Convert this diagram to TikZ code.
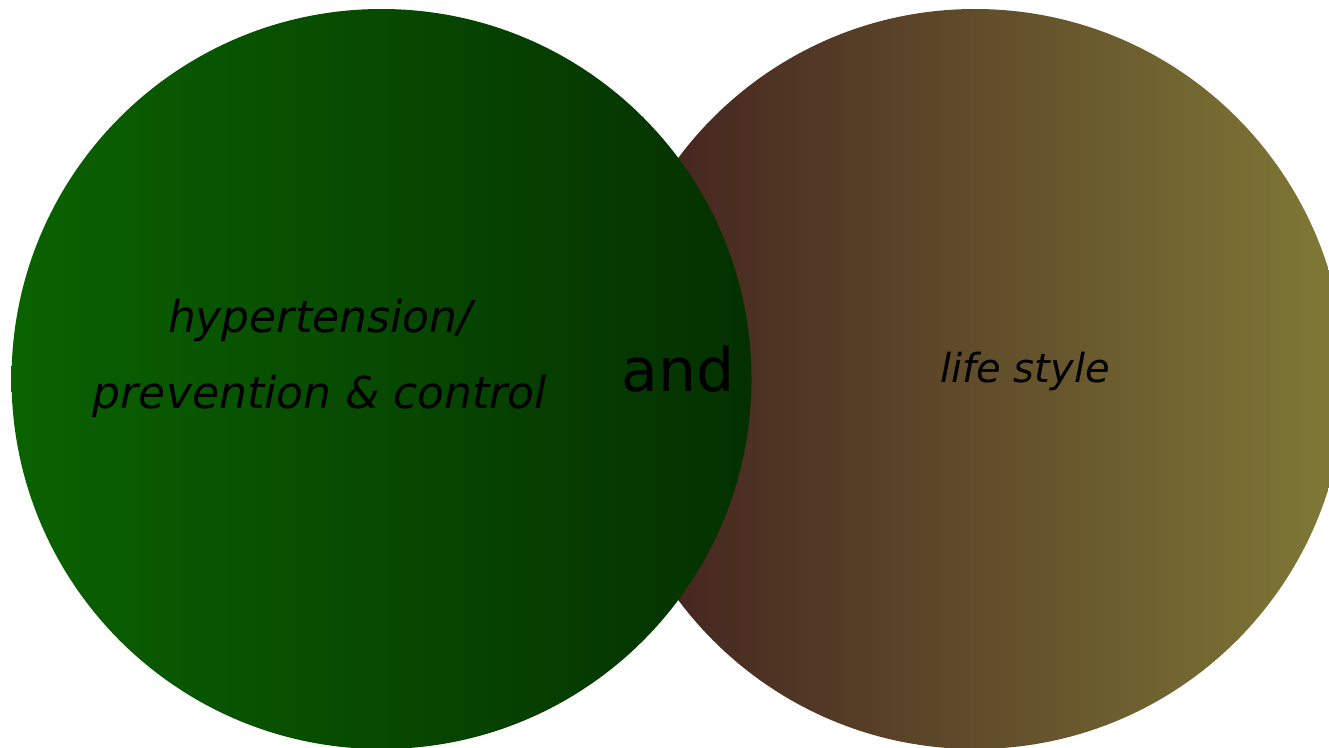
\documentclass[tikz,border=0pt]{standalone}
\usepackage{fontspec}
\setmainfont{DejaVu Sans}
\begin{document}
\begin{tikzpicture}[x=1pt,y=-1pt,
  lbl/.style={text=black, inner sep=0pt, outer sep=0pt}]
\definecolor{gL}{RGB}{10,98,0}
\definecolor{gM}{RGB}{6,66,0}
\definecolor{gR}{RGB}{4,48,0}
\definecolor{bL}{RGB}{64,30,30}
\definecolor{bM}{RGB}{86,60,36}
\definecolor{bR}{RGB}{128,122,54}
\useasboundingbox (0,0) rectangle (1329,747);
\clip (0,0) rectangle (1329,747);
\shade[left color=bL,middle color=bM,right color=bR] (975,379) circle[radius=370pt];
\shade[left color=gL,middle color=gM,right color=gR] (381.5,379) circle[radius=370pt];
\node[lbl, anchor=center, align=center, font=\fontsize{44}{76}\selectfont\itshape] (hyp) at (320,358) {hypertension/\\prevention \& control};
\node[lbl, anchor=base, font=\fontsize{60}{72}\selectfont] (and) at (678,391) {and};
\node[lbl, anchor=base, font=\fontsize{40}{48}\selectfont\itshape] (life) at (1025,382) {life style};
\end{tikzpicture}
\end{document}
